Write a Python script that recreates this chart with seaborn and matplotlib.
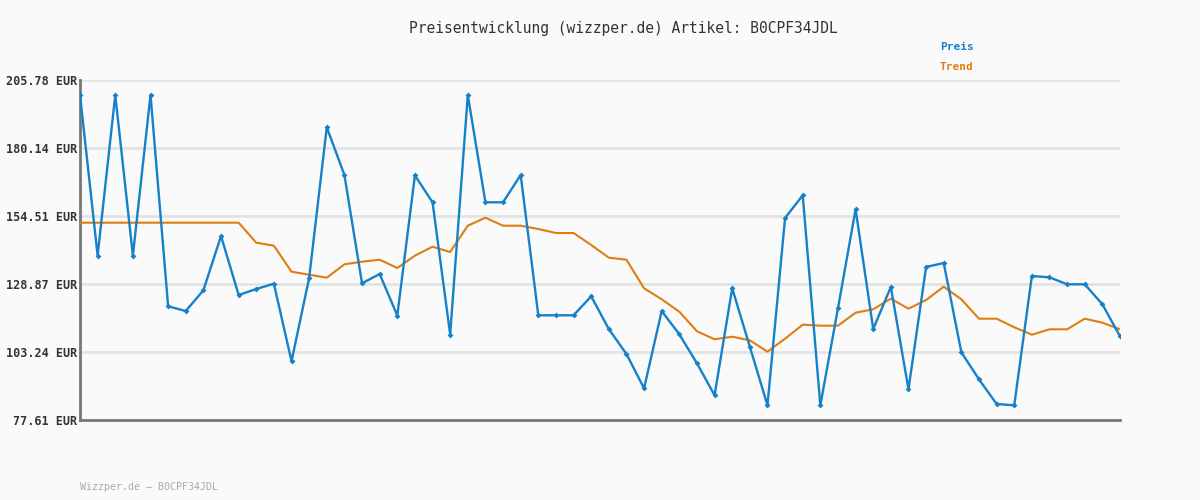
import numpy as np
import pandas as pd
import matplotlib
matplotlib.use('Agg')
import matplotlib.pyplot as plt
import seaborn as sns

# ── Data ─────────────────────────────────────────────────────────────────────
preis = [200.13, 139.6, 200.13, 139.6, 200.13, 120.47, 118.70, 126.50, 146.97, 124.73,
         126.99, 128.99, 99.74, 131.14, 187.95, 169.97, 129.14, 132.65, 117.00, 169.8,
         159.68, 109.84, 200.13, 159.68, 159.68, 169.97, 117.08, 117.08, 117.08, 124.24,
         111.91, 102.49, 89.56, 118.70, 109.92, 98.98, 86.92, 127.26, 105.24, 83.15,
         153.76, 162.32, 83.15, 119.72, 157.04, 111.91, 127.75, 89.18, 135.29, 136.79,
         103.13, 92.95, 83.64, 83.15, 131.89, 131.40, 128.77, 128.77, 121.23, 109.16]

trend = [151.99, 151.99, 151.99, 151.99, 151.99, 151.99, 151.99, 151.99, 151.99, 151.99,
         144.45, 143.32, 133.51, 132.38, 131.25, 136.30, 137.28, 138.04, 134.91, 139.55,
         142.94, 140.94, 150.86, 153.87, 150.86, 150.86, 149.61, 148.10, 148.10, 143.58,
         138.79, 138.04, 127.26, 123.11, 118.44, 111.05, 108.03, 109.01, 107.65, 103.36,
         108.26, 113.54, 113.16, 113.16, 118.06, 119.34, 123.34, 119.57, 122.85, 127.86,
         123.11, 115.80, 115.80, 112.56, 109.77, 111.80, 111.80, 115.80, 114.29, 111.80]

y_ticks = [77.61, 103.24, 128.87, 154.51, 180.14, 205.78]
title = "Preisentwicklung (wizzper.de) Artikel: B0CPF34JDL"
footer = "Wizzper.de \u2013 B0CPF34JDL"

BLUE = "#1581c9"
ORANGE = "#e07d10"
BG = "#fafafa"

# ── Plot ─────────────────────────────────────────────────────────────────────
sns.set_theme(style="white")
plt.rcParams['font.family'] = ['DejaVu Sans Mono', 'DejaVu Sans']

df = pd.DataFrame({'idx': np.arange(len(preis)), 'Preis': preis, 'Trend': trend})

fig = plt.figure(figsize=(12, 5), dpi=100, facecolor=BG)
ax = fig.add_axes([80 / 1200, 1 - 420 / 500, 1040 / 1200, 340 / 500])
ax.set_facecolor(BG)

sns.lineplot(data=df, x='idx', y='Trend', color=ORANGE, linewidth=1.5, ax=ax, zorder=3)
sns.lineplot(data=df, x='idx', y='Preis', color=BLUE, linewidth=1.7, marker='D',
             markersize=3, markeredgewidth=0, ax=ax, zorder=4)

ax.set_xlim(0, len(preis) - 1)
ax.set_ylim(y_ticks[0], y_ticks[-1])
ax.set_yticks(y_ticks)
ax.set_yticklabels([f"{v:.2f} EUR" for v in y_ticks], fontsize=8.5,
                   fontweight='bold', color='#333333')
ax.set_xticks([])
ax.set_xlabel('')
ax.set_ylabel('')
ax.tick_params(axis='y', length=0, pad=2)
ax.yaxis.grid(True, color='#e3e3e3', linewidth=2)
ax.set_axisbelow(True)

for side in ['top', 'right']:
    ax.spines[side].set_visible(False)
for side in ['left', 'bottom']:
    ax.spines[side].set_color('#777777')
    ax.spines[side].set_linewidth(2)

fig.text(623 / 1200, 1 - 28 / 500, title, ha='center', va='center',
         fontsize=10.5, color='#333333')
fig.text(940 / 1200, 1 - 47 / 500, "Preis", ha='left', va='center',
         fontsize=8, fontweight='bold', color=BLUE)
fig.text(940 / 1200, 1 - 67 / 500, "Trend", ha='left', va='center',
         fontsize=8, fontweight='bold', color=ORANGE)
fig.text(80 / 1200, 1 - 487 / 500, footer, ha='left', va='center',
         fontsize=7.2, color='#aaaaaa')

fig.savefig('out.png', dpi=100, facecolor=BG)
